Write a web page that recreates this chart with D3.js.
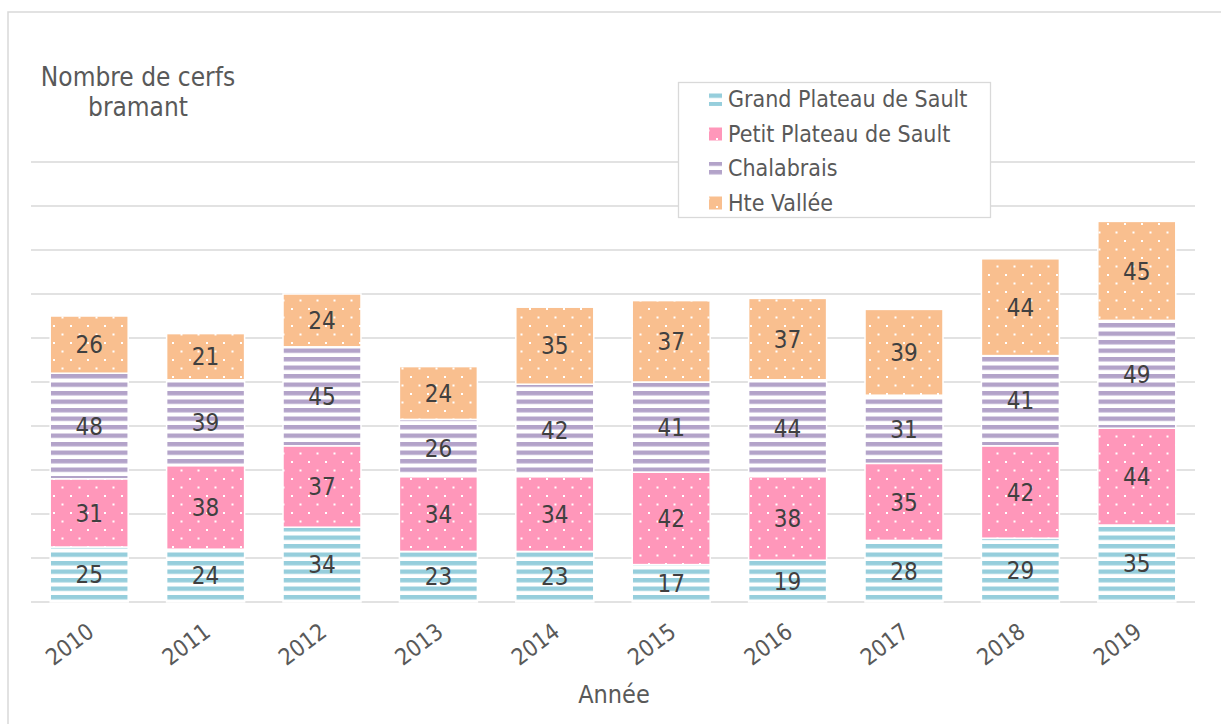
<!DOCTYPE html>
<html><head><meta charset="utf-8">
<script src="https://cdn.jsdelivr.net/npm/d3@7"></script>
<style>
body{margin:0;background:#fff;}
text{font-family:"DejaVu Sans Condensed","DejaVu Sans",sans-serif;font-stretch:condensed;}
</style></head><body>
<svg id="c" width="1221" height="724"></svg>
<script>
const years = ["2010","2011","2012","2013","2014","2015","2016","2017","2018","2019"];
const seriesNames = ["Grand Plateau de Sault","Petit Plateau de Sault","Chalabrais","Hte Vallée"];
const grand = [25,24,34,23,23,17,19,28,29,35];
const petit = [31,38,37,34,34,42,38,35,42,44];
const chalabrais = [48,39,45,26,42,41,44,31,41,49];
const hteVallee = [26,21,24,24,35,37,37,39,44,45];
const yTicks = [0,20,40,60,80,100,120,140,160,180,200];
const colors = ["#96CEDC","#FF97BA","#B3A3C9","#F9BF8F"];
const patternKinds = ["stripe","dot","stripe","dot"];

const svg = d3.select("#c");
const defs = svg.append("defs");
colors.forEach((c,i)=>{
  if(patternKinds[i]==="stripe"){
    const p = defs.append("pattern").attr("id","p"+i).attr("patternUnits","userSpaceOnUse")
      .attr("width",8).attr("height",8.5);
    p.append("rect").attr("width",8).attr("height",8.5).attr("fill","#fff");
    p.append("rect").attr("width",8).attr("height",4.4).attr("fill",c);
  } else {
    const p = defs.append("pattern").attr("id","p"+i).attr("patternUnits","userSpaceOnUse")
      .attr("width",17).attr("height",17);
    p.append("rect").attr("width",17).attr("height",17).attr("fill",c);
    p.append("rect").attr("x",2).attr("y",2).attr("width",2).attr("height",2).attr("fill","#fff");
    p.append("rect").attr("x",10.5).attr("y",10.5).attr("width",2).attr("height",2).attr("fill","#fff");
  }
});

// frame
svg.append("rect").attr("x",8).attr("y",12).attr("width",1300).attr("height",800)
  .attr("fill","none").attr("stroke","#d9d9d9").attr("stroke-width",1.5);

const x = d3.scaleBand().domain(years).range([31,1195]).paddingInner(0.33).paddingOuter(0.165);
const y = d3.scaleLinear().domain([0,200]).range([602,162]);

// gridlines
const g = svg.append("g");
g.selectAll("line.grid").data(yTicks).join("line")
  .attr("x1",31).attr("x2",1195).attr("y1",d=>y(d)).attr("y2",d=>y(d))
  .attr("stroke","#d9d9d9").attr("stroke-width",1.3);

const data = years.map((yr,i)=>({year:yr, s0:grand[i], s1:petit[i], s2:chalabrais[i], s3:hteVallee[i]}));
const stack = d3.stack().keys(["s0","s1","s2","s3"])(data);

stack.forEach((layer,si)=>{
  const lg = svg.append("g");
  lg.selectAll("rect").data(layer).join("rect")
    .attr("x",d=>x(d.data.year)).attr("width",x.bandwidth())
    .attr("y",d=>y(d[1])).attr("height",d=>y(d[0])-y(d[1]))
    .attr("fill","url(#p"+si+")").attr("stroke","#fff").attr("stroke-width",1.5);
  lg.selectAll("text").data(layer).join("text")
    .attr("x",d=>x(d.data.year)+x.bandwidth()/2)
    .attr("y",d=>(y(d[0])+y(d[1]))/2)
    .attr("dy","0.36em").attr("text-anchor","middle")
    .attr("font-size",24).attr("fill","#404040")
    .text(d=>d[1]-d[0]);
});

// x axis labels
svg.append("g").selectAll("text").data(years).join("text")
  .attr("transform",d=>`translate(${x(d)+x.bandwidth()/2-4},${621}) rotate(-37)`)
  .attr("text-anchor","end").attr("dy","0.75em")
  .attr("font-size",23).attr("fill","#595959").text(d=>d);

// axis title
svg.append("text").attr("x",614).attr("y",703).attr("text-anchor","middle")
  .attr("font-size",25).attr("fill","#595959").text("Année");

// y title
const yt = svg.append("text").attr("text-anchor","middle").attr("font-size",26).attr("fill","#595959");
yt.append("tspan").attr("x",138).attr("y",86).text("Nombre de cerfs");
yt.append("tspan").attr("x",138).attr("y",116).text("bramant");

// legend
const leg = svg.append("g");
leg.append("rect").attr("x",678.5).attr("y",82.5).attr("width",312).attr("height",135)
  .attr("fill","#fff").attr("stroke","#d9d9d9").attr("stroke-width",1.3);
seriesNames.forEach((n,i)=>{
  const cy = 99 + i*34.5;
  leg.append("rect").attr("x",709).attr("y",cy-6).attr("width",13).attr("height",13)
    .attr("fill","url(#p"+i+")");
  leg.append("text").attr("x",728).attr("y",cy).attr("dy","0.36em")
    .attr("font-size",23).attr("fill","#595959").text(n);
});
</script></body></html>
